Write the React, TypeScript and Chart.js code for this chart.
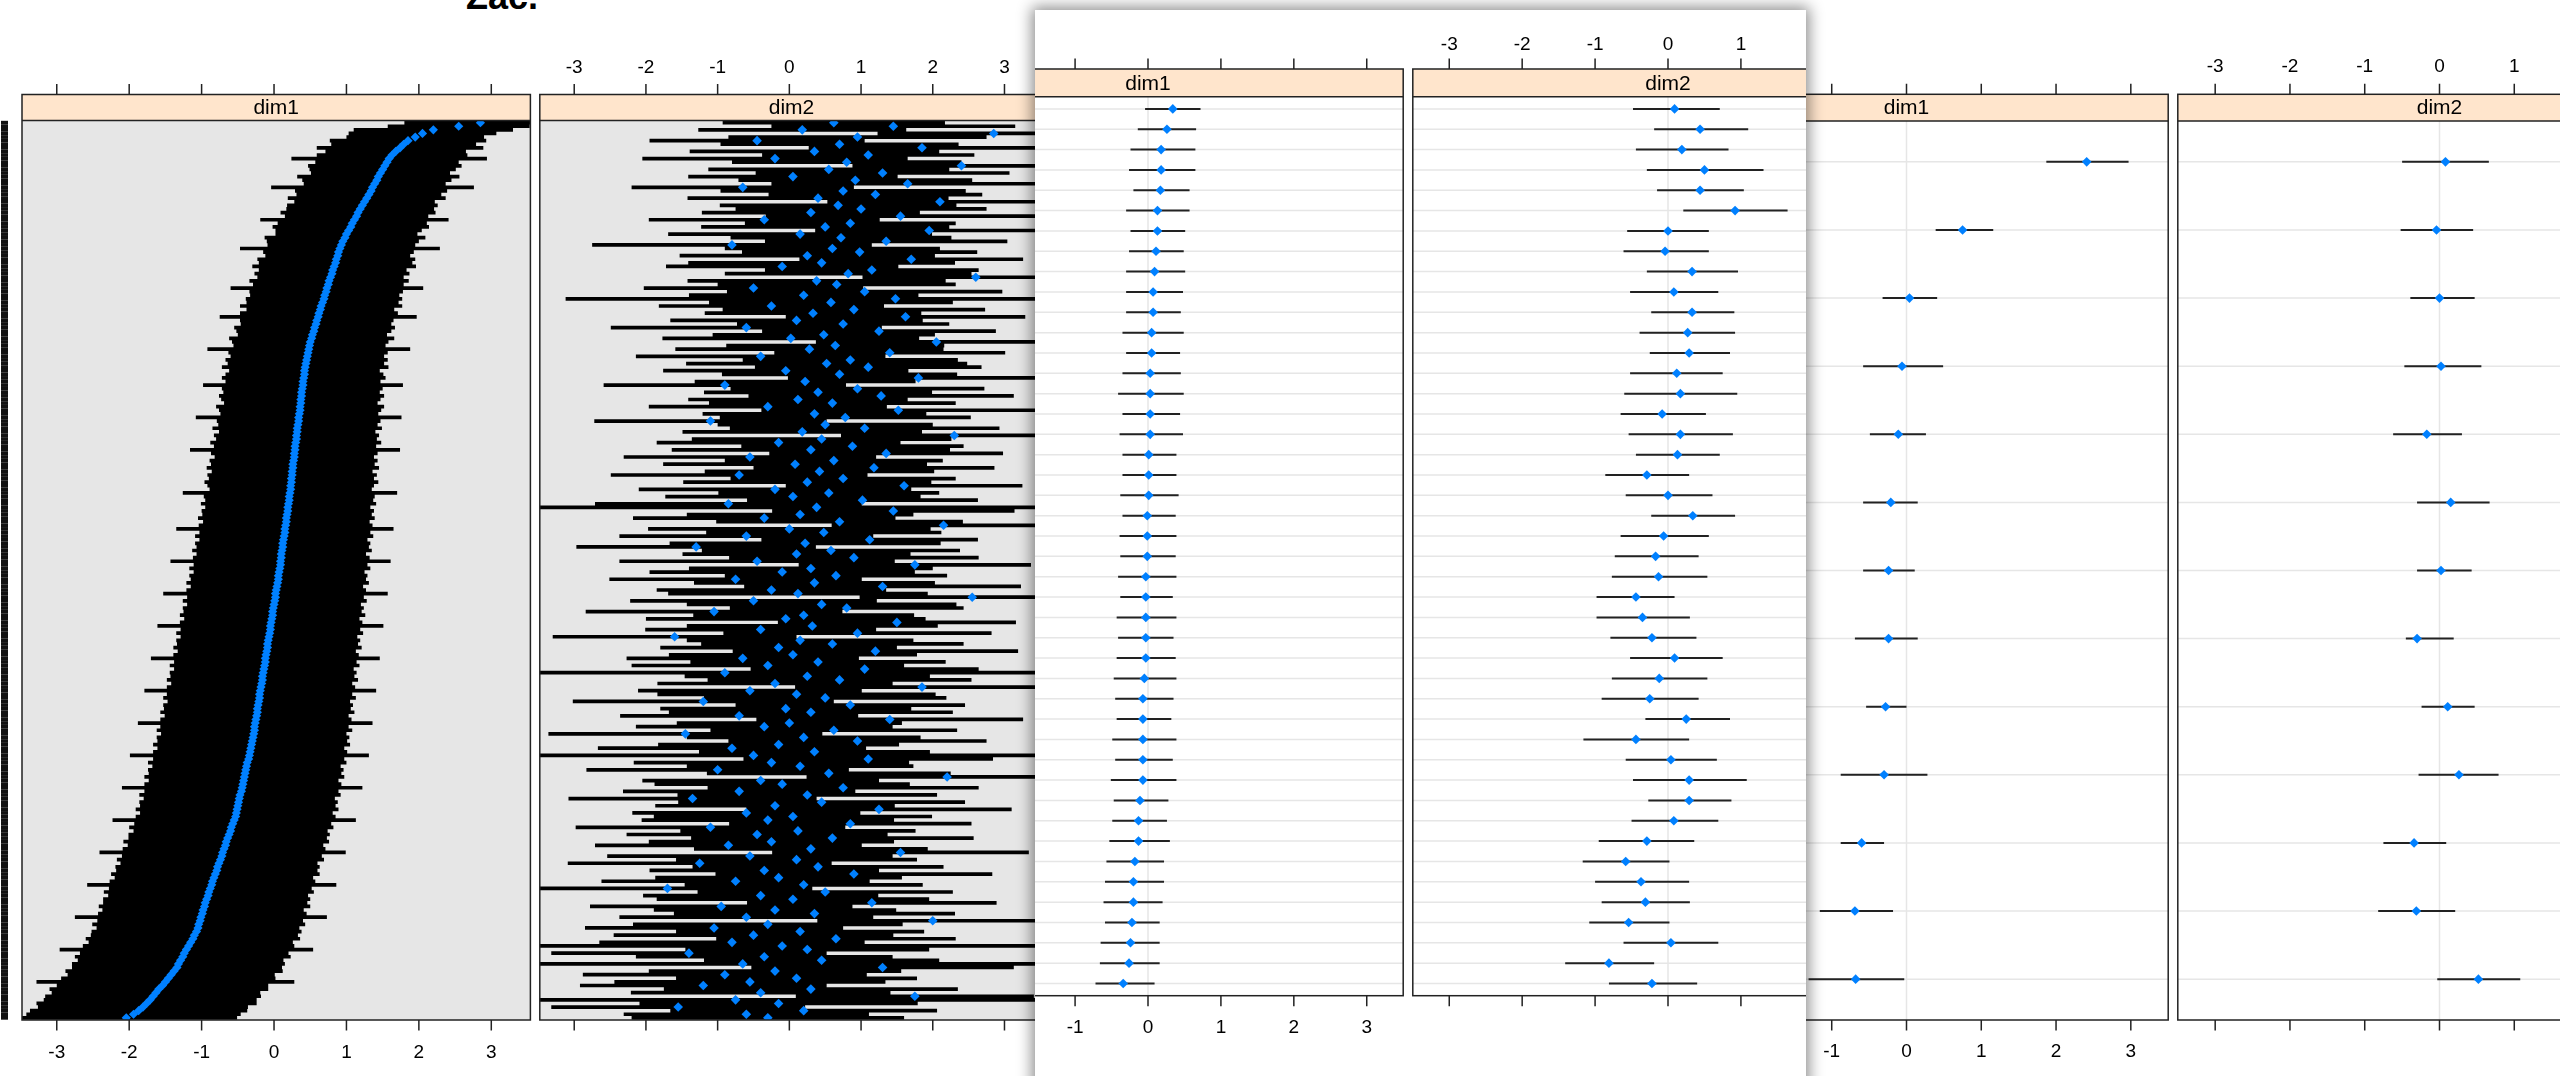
import React, { useEffect, useRef } from "react";
import { Chart, registerables } from "chart.js";

Chart.register(...registerables);

const TITLE = "Zac.";
const STRIPS = ["dim1", "dim2"];
const TICK_VALUES = [-3, -2, -1, 0, 1, 2, 3];

// ---------- Figure A (left, many levels sorted by dim1) ----------
const A_DIM1 = [
  2.85, 2.55, 2.2, 2.05, 1.95, 1.85, 1.79, 1.74, 1.68, 1.63,
  1.59, 1.56, 1.53, 1.5, 1.47, 1.44, 1.42, 1.39, 1.36, 1.34,
  1.31, 1.28, 1.25, 1.22, 1.19, 1.16, 1.14, 1.11, 1.08, 1.06,
  1.03, 1.0, 0.98, 0.95, 0.93, 0.91, 0.89, 0.88, 0.86, 0.85,
  0.83, 0.81, 0.8, 0.78, 0.76, 0.75, 0.73, 0.72, 0.7, 0.69,
  0.67, 0.65, 0.64, 0.62, 0.61, 0.59, 0.58, 0.56, 0.55, 0.53,
  0.52, 0.5, 0.49, 0.48, 0.47, 0.46, 0.45, 0.44, 0.43, 0.42,
  0.42, 0.41, 0.4, 0.4, 0.39, 0.38, 0.38, 0.37, 0.37, 0.36,
  0.36, 0.35, 0.34, 0.34, 0.33, 0.32, 0.32, 0.31, 0.31, 0.3,
  0.29, 0.29, 0.28, 0.28, 0.27, 0.26, 0.26, 0.25, 0.25, 0.24,
  0.24, 0.23, 0.23, 0.22, 0.21, 0.21, 0.2, 0.19, 0.19, 0.18,
  0.17, 0.17, 0.16, 0.15, 0.15, 0.14, 0.13, 0.12, 0.12, 0.11,
  0.1, 0.1, 0.09, 0.09, 0.08, 0.07, 0.06, 0.06, 0.05, 0.04,
  0.03, 0.02, 0.02, 0.01, 0.0, -0.01, -0.02, -0.02, -0.03, -0.04,
  -0.05, -0.05, -0.06, -0.07, -0.08, -0.09, -0.09, -0.1, -0.11, -0.12,
  -0.12, -0.13, -0.14, -0.15, -0.16, -0.16, -0.17, -0.18, -0.19, -0.2,
  -0.2, -0.21, -0.22, -0.23, -0.23, -0.24, -0.25, -0.26, -0.27, -0.27,
  -0.28, -0.29, -0.3, -0.31, -0.32, -0.33, -0.34, -0.35, -0.37, -0.38,
  -0.39, -0.4, -0.41, -0.42, -0.43, -0.44, -0.45, -0.47, -0.48, -0.49,
  -0.5, -0.51, -0.52, -0.53, -0.55, -0.57, -0.59, -0.6, -0.62, -0.64,
  -0.66, -0.67, -0.69, -0.71, -0.72, -0.74, -0.76, -0.78, -0.79, -0.81,
  -0.83, -0.85, -0.86, -0.88, -0.9, -0.91, -0.93, -0.95, -0.96, -0.98,
  -0.99, -1.01, -1.02, -1.04, -1.05, -1.07, -1.1, -1.12, -1.15, -1.18,
  -1.21, -1.24, -1.26, -1.29, -1.32, -1.34, -1.38, -1.42, -1.46, -1.5,
  -1.54, -1.59, -1.63, -1.67, -1.71, -1.76, -1.81, -1.87, -1.94, -2.04,
];
const A_DIM1_HALF = [
  1.05, 0.98, 1.1, 1.02, 0.95, 1.08, 1.0, 1.15, 0.97, 1.04, 1.35, 0.99, 1.06, 1.01, 0.96, 1.12, 1.03, 0.98, 1.4, 1.05, 1.0, 1.09, 0.97, 1.04, 1.02,
  1.07, 0.99, 1.3, 1.03, 1.08, 1.01, 0.98, 1.11, 1.05, 1.02, 1.38, 1.04, 1.0, 1.09, 1.06, 1.13, 1.02, 1.07, 1.01, 1.1, 1.04, 1.33, 1.06, 1.03, 1.08,
  1.05, 1.12, 1.02, 1.09, 1.36, 1.06, 1.04, 1.11, 1.07, 1.03, 1.14, 1.08, 1.05, 1.4, 1.1, 1.06, 1.12, 1.08, 1.15, 1.04, 1.09, 1.13, 1.07, 1.38, 1.11,
  1.08, 1.14, 1.1, 1.06, 1.16, 1.12, 1.09, 1.42, 1.13, 1.1, 1.17, 1.08, 1.14, 1.11, 1.18, 1.12, 1.45, 1.15, 1.1, 1.16, 1.13, 1.19, 1.11, 1.17, 1.14,
  1.2, 1.15, 1.12, 1.48, 1.18, 1.16, 1.21, 1.14, 1.19, 1.17, 1.22, 1.15, 1.2, 1.5, 1.18, 1.23, 1.16, 1.21, 1.19, 1.24, 1.17, 1.22, 1.52, 1.2, 1.25,
  1.18, 1.23, 1.21, 1.26, 1.19, 1.24, 1.55, 1.22, 1.27, 1.2, 1.25, 1.23, 1.28, 1.21, 1.26, 1.56, 1.24, 1.29, 1.22, 1.27, 1.25, 1.3, 1.23, 1.28, 1.58,
  1.26, 1.31, 1.24, 1.29, 1.27, 1.32, 1.25, 1.3, 1.6, 1.28, 1.33, 1.26, 1.31, 1.29, 1.34, 1.27, 1.32, 1.62, 1.3, 1.35, 1.28, 1.33, 1.31, 1.36, 1.29,
  1.34, 1.65, 1.32, 1.37, 1.3, 1.35, 1.33, 1.38, 1.31, 1.36, 1.66, 1.34, 1.39, 1.32, 1.37, 1.35, 1.4, 1.33, 1.38, 1.68, 1.36, 1.41, 1.34, 1.39, 1.37,
  1.42, 1.35, 1.4, 1.7, 1.38, 1.43, 1.36, 1.41, 1.39, 1.44, 1.37, 1.42, 1.72, 1.4, 1.45, 1.38, 1.43, 1.41, 1.46, 1.39, 1.44, 1.74, 1.42, 1.47, 1.4,
  1.45, 1.43, 1.48, 1.41, 1.46, 1.75, 1.44, 1.49, 1.42, 1.47, 1.45, 1.5, 1.43, 1.48, 1.78, 1.46, 1.51, 1.44, 1.49, 1.47, 1.52, 1.45, 1.5, 1.48, 1.53,
];
const A_DIM2 = [
  0.62, 1.45, 0.18, 2.85, 0.95, -0.45, 0.7, 1.85, 0.35, 1.1, -0.2, 0.8, 2.4, 0.55, 1.3, 0.05, 0.92, 1.65, -0.65, 0.75, 1.2, 0.4, 2.1, 0.68, 1.0,
  0.3, 1.55, -0.35, 0.85, 0.5, 1.95, 0.15, 0.72, 1.35, -0.8, 0.6, 0.98, 0.25, 1.7, 0.45, -0.1, 1.15, 0.82, 2.6, 0.38, 0.66, -0.5, 1.05, 0.2, 1.48,
  0.58, -0.25, 0.9, 0.33, 1.62, 0.1, 0.75, -0.6, 1.25, 0.48, 0.02, 2.05, 0.64, 0.28, 1.4, -0.4, 0.85, 0.52, 1.1, -0.05, 0.7, 1.8, 0.22, -0.9, 0.95,
  0.4, 1.28, 0.12, 0.6, -0.3, 1.52, 0.35, 0.78, -1.1, 0.5, 1.05, 0.18, 2.3, 0.45, -0.15, 0.88, 0.3, 1.35, -0.55, 0.62, 0.08, 1.18, 0.42, -0.7, 0.75,
  0.25, 1.6, -0.2, 0.55, 0.05, 1.02, -0.85, 0.38, 1.45, 0.15, -0.35, 0.7, 2.15, 0.0, 0.48, -0.6, 1.12, 0.22, -1.3, 0.58, 0.1, 0.9, -0.45, 1.75, 0.3,
  -0.1, 0.65, -0.75, 0.35, 1.3, -0.25, 0.12, 2.55, -0.5, 0.45, 0.8, -1.05, 0.2, -0.05, 1.5, 0.32, -0.4, 0.95, -1.6, 0.15, 0.6, -0.15, 1.2, 0.05, -0.65,
  0.4, -0.3, 1.05, -0.9, 0.25, 0.7, -0.2, 1.85, -0.55, 0.1, 0.5, -1.2, 0.85, -0.05, 0.3, -0.7, 1.4, 0.0, -0.35, 0.62, -1.45, 0.2, 0.95, -0.15, -0.8,
  0.35, -0.5, 1.1, -0.25, 0.15, -1.0, 0.55, 2.2, -0.4, -0.1, 0.75, -0.7, 0.25, -1.35, 0.45, -0.2, 1.25, -0.6, 0.05, -0.3, 0.85, -1.1, 0.12, -0.45, 0.6,
  -0.25, -0.85, 0.3, 1.55, -0.55, 0.1, -1.25, 0.4, -0.35, 0.9, -0.15, -0.75, 0.2, -1.7, 0.5, -0.4, 0.05, 1.15, -0.95, -0.2, 0.35, -0.6, 2.0, -0.3, -1.05,
  0.15, -0.5, 0.65, -0.8, -0.1, 0.25, -1.4, -0.35, 0.45, -0.65, 1.3, -0.2, -0.9, 0.1, -0.55, -1.2, 0.3, -0.4, 1.75, -0.75, -0.15, -1.55, 0.2, -0.6, -0.3,
];
const A_DIM2_HALF = [
  1.55, 1.7, 1.45, 1.62, 1.8, 1.5, 1.66, 1.58, 1.74, 1.48, 1.85, 1.6, 1.52, 1.68, 1.77, 1.46, 1.63, 1.9, 1.55, 1.71, 1.49, 1.82, 1.57, 1.65, 1.75,
  1.52, 1.88, 1.61, 1.47, 1.73, 1.59, 1.84, 1.54, 1.69, 1.95, 1.5, 1.64, 1.78, 1.56, 1.86, 1.62, 1.49, 1.72, 1.58, 1.8, 1.66, 1.53, 1.92, 1.6, 4.6,
  1.7, 1.57, 1.83, 1.51, 1.67, 1.76, 1.48, 1.89, 1.63, 1.55, 1.79, 1.68, 1.52, 1.87, 1.61, 1.74, 1.5, 1.96, 1.58, 1.71, 1.64, 1.82, 1.54, 1.69, 1.77,
  1.59, 1.85, 1.53, 1.72, 1.66, 1.91, 1.56, 1.75, 1.62, 1.5, 1.88, 1.67, 1.58, 1.81, 1.7, 1.55, 1.94, 1.63, 1.76, 1.52, 1.84, 1.68, 1.6, 1.79, 1.57,
  1.73, 1.65, 1.9, 1.54, 1.78, 1.61, 1.86, 4.8, 1.69, 1.58, 1.83, 1.72, 1.56, 1.97, 1.64, 1.77, 1.51, 1.89, 1.67, 1.8, 1.59, 1.74, 1.92, 1.62, 1.7,
  1.85, 1.55, 1.76, 1.68, 1.93, 1.6, 1.81, 1.57, 1.72, 1.88, 1.63, 1.79, 1.54, 1.95, 1.66, 1.75, 1.61, 1.87, 1.7, 1.58, 1.83, 1.65, 1.99, 1.73, 1.62,
  1.78, 1.9, 1.59, 4.7, 1.71, 1.84, 1.64, 1.77, 1.56, 1.94, 1.69, 1.82, 1.6, 1.75, 1.98, 1.66, 1.86, 1.57, 1.79, 1.72, 1.91, 1.63, 1.8, 1.68, 1.87,
  1.61, 4.5, 1.74, 1.92, 1.58, 1.83, 1.7, 1.96, 1.65, 1.78, 1.89, 1.62, 1.81, 1.73, 2.0, 1.67, 1.85, 1.59, 1.94, 1.76, 1.69, 1.88, 1.64, 1.82, 1.97,
  1.71, 1.86, 1.63, 1.79, 1.99, 1.68, 1.84, 1.75, 1.6, 1.93, 1.72, 1.87, 1.66, 2.02, 1.78, 1.64, 1.9, 1.74, 1.83, 1.69, 1.96, 1.77, 1.61, 1.88, 1.8,
  1.73, 1.95, 1.67, 1.85, 4.9, 1.7, 1.92, 1.79, 1.64, 4.6, 1.83, 1.76, 1.98, 1.68, 1.89, 1.72, 2.05, 1.81, 1.66, 4.7, 1.94, 1.77, 1.86, 1.71, 1.9,
];

// ---------- Figure B (middle card, 44 levels) ----------
const B_DIM1 = [0.34, 0.26, 0.18, 0.18, 0.17, 0.13, 0.13, 0.11, 0.09, 0.07, 0.07, 0.05, 0.05, 0.03, 0.03, 0.03, 0.03, 0.01, 0.01, 0.01, -0.01, -0.01, -0.01, -0.03, -0.03, -0.03, -0.03, -0.03, -0.05, -0.07, -0.07, -0.07, -0.07, -0.07, -0.11, -0.13, -0.13, -0.18, -0.2, -0.2, -0.22, -0.24, -0.26, -0.34];
const B_DIM1_LO = [-0.04, -0.14, -0.24, -0.26, -0.2, -0.3, -0.24, -0.26, -0.3, -0.3, -0.3, -0.35, -0.3, -0.35, -0.41, -0.35, -0.39, -0.35, -0.35, -0.38, -0.35, -0.39, -0.38, -0.41, -0.38, -0.43, -0.41, -0.43, -0.47, -0.45, -0.43, -0.49, -0.45, -0.51, -0.47, -0.49, -0.53, -0.57, -0.59, -0.61, -0.59, -0.65, -0.66, -0.72];
const B_DIM1_HI = [0.72, 0.66, 0.65, 0.65, 0.57, 0.57, 0.51, 0.49, 0.51, 0.48, 0.45, 0.49, 0.44, 0.45, 0.49, 0.44, 0.48, 0.39, 0.39, 0.42, 0.38, 0.39, 0.38, 0.39, 0.34, 0.39, 0.35, 0.38, 0.39, 0.35, 0.32, 0.39, 0.34, 0.39, 0.28, 0.26, 0.3, 0.22, 0.22, 0.2, 0.16, 0.16, 0.16, 0.09];
const B_DIM2 = [0.09, 0.44, 0.19, 0.5, 0.44, 0.92, 0.0, -0.04, 0.33, 0.08, 0.33, 0.27, 0.29, 0.12, 0.17, -0.08, 0.17, 0.13, -0.29, 0.0, 0.34, -0.06, -0.17, -0.13, -0.44, -0.35, -0.22, 0.09, -0.12, -0.25, 0.25, -0.44, 0.04, 0.29, 0.29, 0.08, -0.29, -0.58, -0.37, -0.31, -0.54, 0.04, -0.81, -0.22];
const B_DIM2_LO = [-0.48, -0.19, -0.44, -0.29, -0.15, 0.21, -0.56, -0.61, -0.29, -0.52, -0.23, -0.39, -0.25, -0.52, -0.6, -0.65, -0.54, -0.44, -0.86, -0.58, -0.23, -0.65, -0.73, -0.77, -0.98, -0.98, -0.79, -0.52, -0.77, -0.91, -0.31, -1.16, -0.58, -0.48, -0.27, -0.5, -0.95, -1.17, -1.0, -0.91, -1.08, -0.61, -1.41, -0.81];
const B_DIM2_HI = [0.71, 1.1, 0.83, 1.31, 1.04, 1.64, 0.56, 0.56, 0.96, 0.69, 0.91, 0.92, 0.85, 0.75, 0.95, 0.52, 0.89, 0.71, 0.29, 0.61, 0.92, 0.56, 0.42, 0.54, 0.09, 0.3, 0.39, 0.75, 0.54, 0.42, 0.85, 0.29, 0.67, 1.08, 0.87, 0.69, 0.36, 0.02, 0.29, 0.3, 0.02, 0.69, -0.19, 0.4];

// ---------- Figure C (right, 13 levels) ----------
const C_DIM1 = [2.41, 0.75, 0.04, -0.06, -0.11, -0.21, -0.24, -0.24, -0.28, -0.3, -0.6, -0.69, -0.68];
const C_DIM1_LO = [1.87, 0.39, -0.32, -0.58, -0.49, -0.58, -0.58, -0.69, -0.54, -0.88, -0.88, -1.16, -1.31];
const C_DIM1_HI = [2.97, 1.16, 0.41, 0.49, 0.26, 0.15, 0.11, 0.15, 0.0, 0.28, -0.3, -0.18, -0.03];
const C_DIM2 = [0.08, -0.04, 0.0, 0.02, -0.17, 0.15, 0.02, -0.3, 0.11, 0.26, -0.34, -0.31, 0.52];
const C_DIM2_LO = [-0.5, -0.52, -0.39, -0.47, -0.62, -0.3, -0.3, -0.45, -0.24, -0.28, -0.75, -0.82, -0.03];
const C_DIM2_HI = [0.66, 0.45, 0.47, 0.56, 0.3, 0.67, 0.43, 0.19, 0.47, 0.79, 0.09, 0.21, 1.08];

const A_DIM1_LO = A_DIM1.map((v, i) => v - A_DIM1_HALF[i]);
const A_DIM1_HI = A_DIM1.map((v, i) => v + A_DIM1_HALF[i]);
const A_DIM2_LO = A_DIM2.map((v, i) => v - A_DIM2_HALF[i]);
const A_DIM2_HI = A_DIM2.map((v, i) => v + A_DIM2_HALF[i]);

const FONT = '"Liberation Sans", Arial, Helvetica, sans-serif';
const BLUE = "#0080ff";
const STRIP_BG = "#ffe5cc";

type Geo = {
  labelTop: number;
  stripTop: number;
  plotTop: number;
  plotBottom: number;
  labelBottom: number;
  tick: number;
};

type PanelProps = {
  x: number;
  w: number;
  padL: number;
  geo: Geo;
  strip: string;
  vals: number[];
  lo: number[];
  hi: number[];
  xmin: number;
  xmax: number;
  labelSide: "top" | "bottom";
  grey: boolean;
  rowLines: boolean;
  rowBand: boolean;
  r: number;
  lw: number;
  barColor: string;
};

function Panel(p: PanelProps) {
  const ref = useRef<HTMLCanvasElement | null>(null);
  const cTop = Math.round(p.geo.labelTop - 16);
  const cBot = Math.round(p.geo.labelBottom + 16);
  const H = cBot - cTop;
  const W = p.w + p.padL;

  useEffect(() => {
    const canvas = ref.current;
    if (!canvas) return;
    const n = p.vals.length;
    const bars: any[] = [];
    for (let i = 0; i < n; i++) {
      bars.push({ x: p.lo[i], y: i + 1 }, { x: p.hi[i], y: i + 1 }, { x: p.hi[i], y: null });
    }
    const pts = p.vals.map((v, i) => ({ x: v, y: i + 1 }));
    const sTop = p.geo.stripTop - cTop;
    const lTop = p.geo.labelTop - cTop;
    const lBot = p.geo.labelBottom - cTop;

    const deco = {
      id: "latticeDeco",
      beforeDatasetsDraw(chart: any) {
        const { ctx, chartArea: a } = chart;
        const xs = chart.scales.x;
        const ys = chart.scales.y;
        ctx.save();
        ctx.fillStyle = p.grey ? "#e6e6e6" : "#ffffff";
        ctx.fillRect(a.left, a.top, a.right - a.left, a.bottom - a.top);
        ctx.strokeStyle = "#e6e6e6";
        ctx.lineWidth = 1.5;
        if (p.rowLines) {
          for (let i = 1; i <= n; i++) {
            const py = ys.getPixelForValue(i);
            ctx.beginPath();
            ctx.moveTo(a.left, py);
            ctx.lineTo(a.right, py);
            ctx.stroke();
          }
        }
        const zx = xs.getPixelForValue(0);
        ctx.beginPath();
        ctx.moveTo(zx, a.top);
        ctx.lineTo(zx, a.bottom);
        ctx.stroke();
        ctx.restore();
      },
      afterDraw(chart: any) {
        const { ctx, chartArea: a } = chart;
        const xs = chart.scales.x;
        const ys = chart.scales.y;
        ctx.save();
        // strip
        ctx.fillStyle = STRIP_BG;
        ctx.fillRect(a.left, sTop, a.right - a.left, a.top - sTop);
        ctx.fillStyle = "#000";
        ctx.font = `21px ${FONT}`;
        ctx.textAlign = "center";
        ctx.textBaseline = "middle";
        ctx.fillText(p.strip, (a.left + a.right) / 2, (sTop + a.top) / 2 + 1);
        // borders
        ctx.strokeStyle = "#222";
        ctx.lineWidth = 1.5;
        ctx.strokeRect(a.left, sTop, a.right - a.left, a.bottom - sTop);
        ctx.beginPath();
        ctx.moveTo(a.left, a.top);
        ctx.lineTo(a.right, a.top);
        ctx.stroke();
        // ticks
        ctx.font = `19px ${FONT}`;
        for (const t of TICK_VALUES) {
          const px = xs.getPixelForValue(t);
          if (px < a.left - 0.5 || px > a.right + 0.5) continue;
          ctx.beginPath();
          ctx.moveTo(px, sTop - p.geo.tick);
          ctx.lineTo(px, sTop);
          ctx.moveTo(px, a.bottom);
          ctx.lineTo(px, a.bottom + p.geo.tick);
          ctx.stroke();
          ctx.fillText(String(t), px, p.labelSide === "top" ? lTop : lBot);
        }
        // row label column (dense level names)
        if (p.rowBand) {
          ctx.strokeStyle = "#111";
          ctx.lineWidth = 3.7;
          for (let i = 1; i <= n; i++) {
            const py = ys.getPixelForValue(i);
            ctx.beginPath();
            ctx.moveTo(1, py);
            ctx.lineTo(8, py);
            ctx.stroke();
          }
        }
        ctx.restore();
      },
    };

    const chart = new Chart(canvas, {
      type: "scatter",
      data: {
        datasets: [
          {
            data: pts,
            order: 0,
            showLine: false,
            pointStyle: "rectRot",
            pointRadius: p.r,
            pointBackgroundColor: BLUE,
            pointBorderColor: BLUE,
            pointBorderWidth: 0,
          } as any,
          {
            data: bars,
            order: 1,
            showLine: true,
            borderColor: p.barColor,
            borderWidth: p.lw,
            borderCapStyle: "butt",
            pointRadius: 0,
            spanGaps: false,
          } as any,
        ],
      },
      options: {
        responsive: false,
        animation: false,
        events: [],
        layout: {
          padding: {
            left: p.padL,
            right: 0,
            top: p.geo.plotTop - cTop,
            bottom: cBot - p.geo.plotBottom,
          },
        },
        plugins: {
          legend: { display: false },
          tooltip: { enabled: false },
          title: { display: false },
        },
        scales: {
          x: { type: "linear", min: p.xmin, max: p.xmax, display: false },
          y: { type: "linear", min: 0.4, max: n + 0.6, reverse: true, display: false },
        },
      } as any,
      plugins: [deco as any],
    });
    return () => chart.destroy();
  }, []);

  return (
    <canvas
      ref={ref}
      width={W}
      height={H}
      style={{ position: "absolute", left: p.x - p.padL, top: cTop, width: W, height: H }}
    />
  );
}

const GEO_A: Geo = { labelTop: 67.5, stripTop: 94.5, plotTop: 120.5, plotBottom: 1020, labelBottom: 1053, tick: 10.5 };
const GEO_B: Geo = { labelTop: 34.7, stripTop: 59, plotTop: 86.7, plotBottom: 985.7, labelBottom: 1018, tick: 10.5 };
const GEO_C: Geo = { labelTop: 66.7, stripTop: 94.3, plotTop: 121, plotBottom: 1020, labelBottom: 1051.7, tick: 10.5 };

export default function App() {
  return (
    <div
      style={{
        position: "fixed",
        left: 0,
        top: 0,
        width: 2560,
        height: 1076,
        overflow: "hidden",
        background: "#fff",
        fontFamily: FONT,
      }}
    >
      <div
        style={{
          position: "absolute",
          left: 402,
          top: -21,
          width: 200,
          textAlign: "center",
          fontWeight: "bold",
          fontSize: 36,
          lineHeight: "36px",
          color: "#000",
        }}
      >
        {TITLE}
      </div>

      {/* left figure */}
      <Panel x={22} w={513} padL={22} geo={GEO_A} strip={STRIPS[0]} vals={A_DIM1} lo={A_DIM1_LO} hi={A_DIM1_HI}
        xmin={-3.48} xmax={3.54} labelSide="bottom" grey rowLines={false} rowBand r={4.6} lw={3.7} barColor="#000" />
      <Panel x={535} w={513} padL={0} geo={GEO_A} strip={STRIPS[1]} vals={A_DIM2} lo={A_DIM2_LO} hi={A_DIM2_HI}
        xmin={-3.48} xmax={3.54} labelSide="top" grey rowLines={false} rowBand={false} r={4.8} lw={3.7} barColor="#000" />

      {/* right figure */}
      <Panel x={1640} w={533} padL={0} geo={GEO_C} strip={STRIPS[0]} vals={C_DIM1} lo={C_DIM1_LO} hi={C_DIM1_HI}
        xmin={-3.5} xmax={3.5} labelSide="bottom" grey={false} rowLines rowBand={false} r={4.8} lw={2} barColor="#222" />
      <Panel x={2173} w={533} padL={0} geo={GEO_C} strip={STRIPS[1]} vals={C_DIM2} lo={C_DIM2_LO} hi={C_DIM2_HI}
        xmin={-3.5} xmax={3.5} labelSide="top" grey={false} rowLines rowBand={false} r={4.8} lw={2} barColor="#222" />

      {/* middle card */}
      <div
        style={{
          position: "absolute",
          left: 1035,
          top: 10,
          width: 771,
          height: 1120,
          background: "#fff",
          boxShadow: "0 0 14px 3px rgba(0,0,0,0.45)",
          overflow: "hidden",
          zIndex: 2,
        }}
      >
        <Panel x={-147} w={520} padL={0} geo={GEO_B} strip={STRIPS[0]} vals={B_DIM1} lo={B_DIM1_LO} hi={B_DIM1_HI}
          xmin={-3.5} xmax={3.5} labelSide="bottom" grey={false} rowLines rowBand={false} r={4.8} lw={2} barColor="#222" />
        <Panel x={373} w={520} padL={0} geo={GEO_B} strip={STRIPS[1]} vals={B_DIM2} lo={B_DIM2_LO} hi={B_DIM2_HI}
          xmin={-3.5} xmax={3.5} labelSide="top" grey={false} rowLines rowBand={false} r={4.8} lw={2} barColor="#222" />
      </div>
    </div>
  );
}
